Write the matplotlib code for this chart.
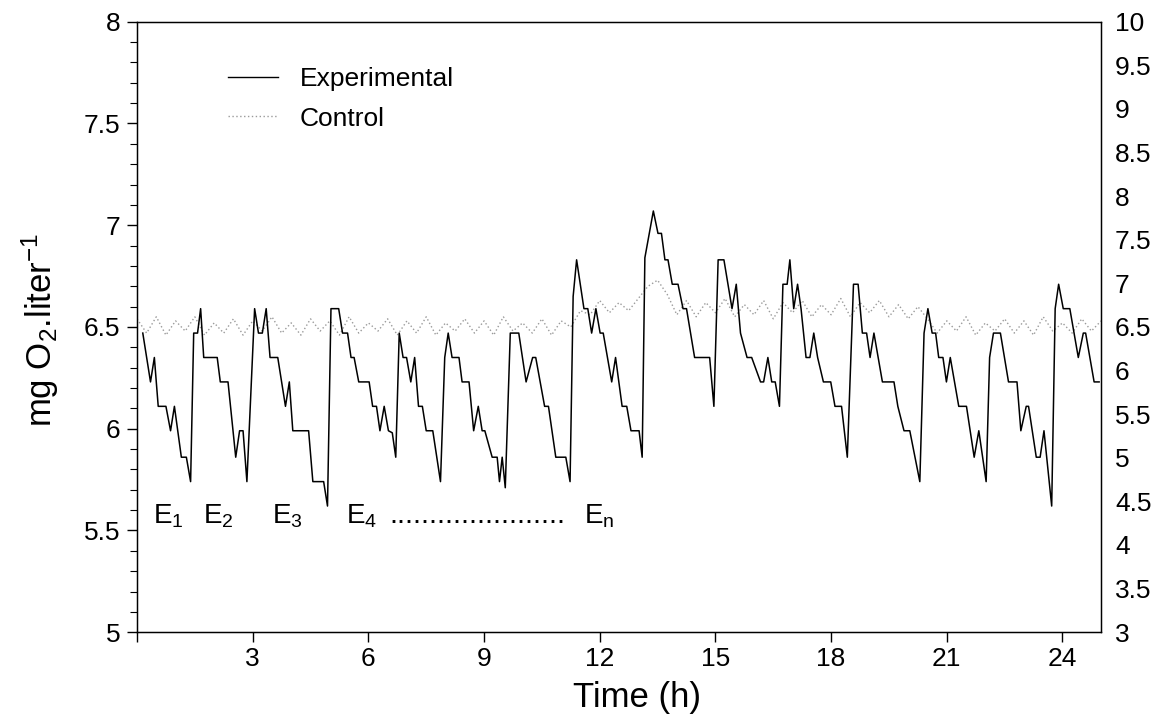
import matplotlib
matplotlib.use("Agg")
import matplotlib.pyplot as plt
from matplotlib.ticker import MultipleLocator
from matplotlib.lines import Line2D

plt.rcParams['font.family'] = ['Liberation Sans', 'DejaVu Sans']
plt.rcParams['mathtext.fontset'] = 'custom'
plt.rcParams['mathtext.rm'] = 'Liberation Sans'
plt.rcParams['mathtext.it'] = 'Liberation Sans:italic'
plt.rcParams['mathtext.bf'] = 'Liberation Sans:bold'
plt.rcParams['mathtext.default'] = 'rm'

# ---------------- data ----------------
exp_time = [0.15, 0.35, 0.45, 0.55, 0.75, 0.87, 0.97, 1.15, 1.28, 1.39,
            1.47, 1.57, 1.65, 1.73, 2.08, 2.16, 2.36, 2.56, 2.66, 2.75,
            2.85, 3.05, 3.15, 3.25, 3.35, 3.45, 3.65, 3.85, 3.95, 4.04,
            4.45, 4.56, 4.84, 4.94, 5.03, 5.23, 5.33, 5.46, 5.55, 5.63,
            5.75, 6.02, 6.11, 6.21, 6.30, 6.41, 6.52, 6.62, 6.71, 6.80,
            6.90, 6.99, 7.10, 7.20, 7.30, 7.40, 7.50, 7.67, 7.87, 7.98,
            8.07, 8.17, 8.35, 8.43, 8.61, 8.73, 8.85, 8.95, 9.02, 9.21,
            9.34, 9.40, 9.47, 9.55, 9.68, 9.90, 10.09, 10.26, 10.34, 10.57,
            10.67, 10.86, 11.12, 11.23, 11.31, 11.40, 11.59, 11.69, 11.79, 11.90,
            12.01, 12.09, 12.31, 12.41, 12.58, 12.70, 12.81, 13.02, 13.10, 13.17,
            13.39, 13.51, 13.60, 13.69, 13.77, 13.88, 14.03, 14.16, 14.25, 14.46,
            14.85, 14.96, 15.07, 15.22, 15.43, 15.54, 15.65, 15.82, 15.94, 16.17,
            16.25, 16.36, 16.46, 16.55, 16.66, 16.75, 16.86, 16.93, 17.03, 17.13,
            17.22, 17.35, 17.45, 17.55, 17.65, 17.80, 17.99, 18.10, 18.27, 18.42,
            18.58, 18.70, 18.81, 18.92, 19.01, 19.11, 19.33, 19.63, 19.73, 19.89,
            20.04, 20.30, 20.41, 20.51, 20.62, 20.71, 20.79, 20.90, 20.99, 21.09,
            21.31, 21.51, 21.71, 21.83, 22.02, 22.11, 22.21, 22.39, 22.60, 22.82,
            22.92, 23.06, 23.12, 23.32, 23.42, 23.52, 23.72, 23.81, 23.90, 24.02,
            24.19, 24.41, 24.54, 24.60, 24.82, 24.95]

exp_o2 = [6.47, 6.23, 6.35, 6.11, 6.11, 5.99, 6.11, 5.86, 5.86, 5.74,
          6.47, 6.47, 6.59, 6.35, 6.35, 6.23, 6.23, 5.86, 5.99, 5.99,
          5.74, 6.59, 6.47, 6.47, 6.59, 6.35, 6.35, 6.11, 6.23, 5.99,
          5.99, 5.74, 5.74, 5.62, 6.59, 6.59, 6.47, 6.47, 6.35, 6.35,
          6.23, 6.23, 6.11, 6.11, 5.99, 6.11, 5.99, 5.98, 5.86, 6.47,
          6.35, 6.35, 6.23, 6.35, 6.11, 6.11, 5.99, 5.99, 5.74, 6.35,
          6.47, 6.35, 6.35, 6.23, 6.23, 5.99, 6.11, 5.99, 5.99, 5.86,
          5.86, 5.74, 5.86, 5.71, 6.47, 6.47, 6.23, 6.35, 6.35, 6.11,
          6.11, 5.86, 5.86, 5.74, 6.65, 6.83, 6.59, 6.59, 6.47, 6.59,
          6.47, 6.47, 6.23, 6.35, 6.11, 6.11, 5.99, 5.99, 5.86, 6.84,
          7.07, 6.96, 6.96, 6.83, 6.83, 6.71, 6.71, 6.59, 6.59, 6.35,
          6.35, 6.11, 6.83, 6.83, 6.59, 6.71, 6.47, 6.35, 6.35, 6.23,
          6.23, 6.35, 6.23, 6.23, 6.11, 6.71, 6.71, 6.83, 6.59, 6.71,
          6.59, 6.35, 6.35, 6.47, 6.35, 6.23, 6.23, 6.11, 6.11, 5.86,
          6.71, 6.71, 6.47, 6.47, 6.35, 6.47, 6.23, 6.23, 6.11, 5.99,
          5.99, 5.74, 6.47, 6.59, 6.47, 6.47, 6.35, 6.35, 6.23, 6.35,
          6.11, 6.11, 5.86, 5.99, 5.74, 6.35, 6.47, 6.47, 6.23, 6.23,
          5.99, 6.11, 6.11, 5.86, 5.86, 5.99, 5.62, 6.59, 6.71, 6.59,
          6.59, 6.35, 6.47, 6.47, 6.23, 6.23]

ctrl_o2 = [6.54, 6.47, 6.55, 6.46, 6.53, 6.48, 6.55, 6.46, 6.52, 6.47,
           6.54, 6.46, 6.53, 6.48, 6.55, 6.47, 6.52, 6.46, 6.54, 6.48,
           6.53, 6.46, 6.55, 6.47, 6.52, 6.48, 6.54, 6.46, 6.53, 6.47,
           6.55, 6.46, 6.52, 6.48, 6.54, 6.47, 6.53, 6.46, 6.55, 6.48,
           6.52, 6.47, 6.54, 6.46, 6.53,
           6.50, 6.58, 6.56, 6.63, 6.57, 6.62, 6.58, 6.64,
           6.70, 6.73, 6.66,
           6.56, 6.63, 6.55, 6.62, 6.57, 6.64, 6.55, 6.61, 6.56, 6.63,
           6.54, 6.62, 6.57, 6.63, 6.55, 6.61, 6.56, 6.64, 6.55, 6.62,
           6.57, 6.63, 6.55, 6.61, 6.54, 6.60,
           6.54, 6.47, 6.53, 6.48, 6.55, 6.46, 6.52, 6.48, 6.54, 6.47,
           6.53, 6.46, 6.55, 6.48, 6.52, 6.47, 6.54, 6.48, 6.53]
ctrl_time = [i * 0.25 for i in range(len(ctrl_o2))]

x_ticks = [0, 3, 6, 9, 12, 15, 18, 21, 24]
x_labels = ['', '3', '6', '9', '12', '15', '18', '21', '24']
left_ticks = [5, 5.5, 6, 6.5, 7, 7.5, 8]
left_labels = ['5', '5.5', '6', '6.5', '7', '7.5', '8']
right_ticks = [3, 3.5, 4, 4.5, 5, 5.5, 6, 6.5, 7, 7.5, 8, 8.5, 9, 9.5, 10]
right_labels = ['3', '3.5', '4', '4.5', '5', '5.5', '6', '6.5', '7', '7.5',
                '8', '8.5', '9', '9.5', '10']

event_labels = ['E$_1$', 'E$_2$', 'E$_3$', 'E$_4$', 'E$_n$']
event_x = [0.41, 1.71, 3.51, 5.43, 11.58]

CTRL_COLOR = '#9a9a9a'
CTRL_STYLE = (0, (1, 1.8))

# ---------------- figure ----------------
fig = plt.figure(figsize=(11.66, 7.25), dpi=100)
ax = fig.add_axes([0.1175, 0.128, 0.8268, 0.842])

ax.plot(ctrl_time, ctrl_o2, color=CTRL_COLOR, lw=1.0, linestyle=CTRL_STYLE,
        label='Control', zorder=2)
ax.plot(exp_time, exp_o2, color='black', lw=1.1, label='Experimental', zorder=3)

ax.set_xlim(0, 25)
ax.set_ylim(5, 8)
ax.set_xticks(x_ticks)
ax.set_xticklabels(x_labels)
ax.set_yticks(left_ticks)
ax.set_yticklabels(left_labels)
ax.yaxis.set_minor_locator(MultipleLocator(0.1))
ax.tick_params(axis='both', which='major', direction='out', labelsize=19,
               length=7, width=1)
ax.tick_params(axis='y', which='minor', direction='out', length=5, width=0.8)
ax.tick_params(axis='x', pad=4)
ax.tick_params(axis='y', pad=5)
for s in ax.spines.values():
    s.set_linewidth(1.0)

ax2 = ax.twinx()
ax2.set_ylim(3, 10)
ax2.set_yticks(right_ticks)
ax2.set_yticklabels(right_labels)
ax2.tick_params(axis='y', length=0, labelsize=19, pad=10)

# event labels
for lab, xe in zip(event_labels, event_x):
    ax.text(xe, 5.535, lab, fontsize=20, ha='left', va='baseline', zorder=4)
ax.text(6.55, 5.535, '.' * 22, fontsize=20.5, ha='left', va='baseline', zorder=4)

# legend
handles = [Line2D([], [], color='black', lw=1.0),
           Line2D([], [], color=CTRL_COLOR, lw=1.0, linestyle=CTRL_STYLE)]
ax.legend(handles, ['Experimental', 'Control'], loc='upper left',
          bbox_to_anchor=(0.07, 0.965), frameon=False, fontsize=19,
          handlelength=1.9, handletextpad=0.8, labelspacing=0.6)

fig.text(40 / 1166, 1 - 330 / 725, 'mg O$_2$.liter$^{-1}$', rotation=90,
         fontsize=25, ha='center', va='center')
fig.text(637 / 1166, 1 - 697 / 725, 'Time (h)', fontsize=25,
         ha='center', va='center')

fig.savefig('out.png', dpi=100)
